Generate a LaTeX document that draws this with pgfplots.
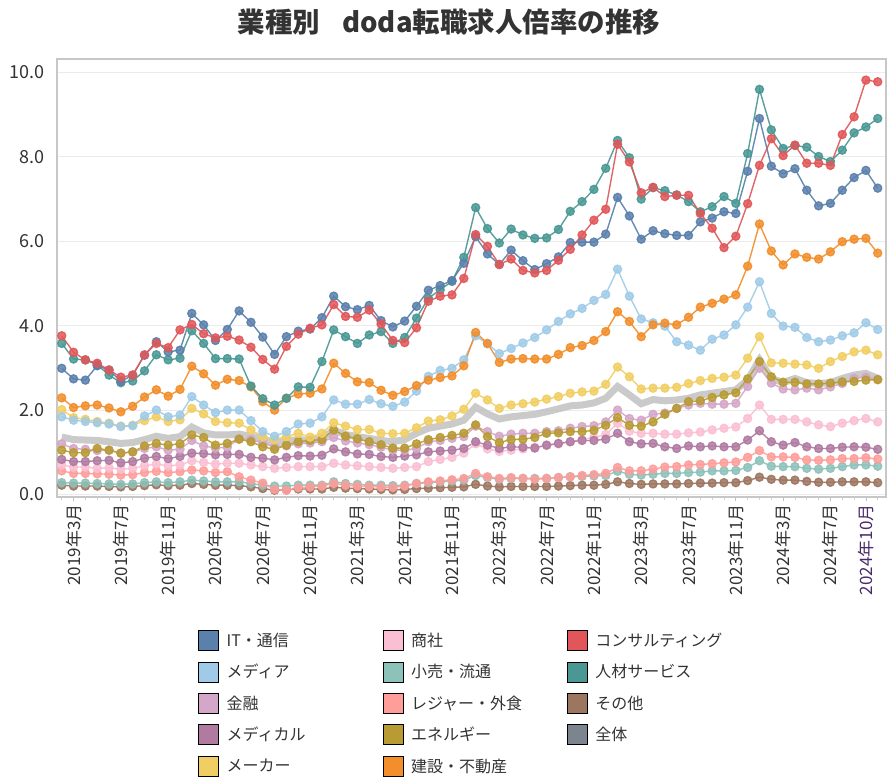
\documentclass[border=0pt]{standalone}
\usepackage{pgfplots}
\pgfplotsset{compat=1.18}
\usepackage{pgfplotstable}
\usepackage{fontspec}
\setmainfont{Noto Sans CJK JP}
\definecolor{cIT}{HTML}{5A80AC}
\definecolor{cMedia}{HTML}{A0CBE8}
\definecolor{cFin}{HTML}{D4A6C8}
\definecolor{cMed}{HTML}{B07AA1}
\definecolor{cMaker}{HTML}{F1CE63}
\definecolor{cTrade}{HTML}{FABFD2}
\definecolor{cRetail}{HTML}{8CC2BA}
\definecolor{cLeisure}{HTML}{FF9D9A}
\definecolor{cEnergy}{HTML}{B89B32}
\definecolor{cConst}{HTML}{F28E2B}
\definecolor{cCons}{HTML}{E15759}
\definecolor{cHR}{HTML}{499894}
\definecolor{cOther}{HTML}{9D7660}
\definecolor{cAllLeg}{HTML}{7B848F}
\definecolor{cAll}{HTML}{BDBDBD}
\definecolor{cTxt}{HTML}{333333}

\pgfplotstableread{
i IT Media Fin Med Maker Trade Retail Leisure Energy Const Cons HR Other All
0 2.99 1.84 1.20 0.83 2.01 0.70 0.28 0.56 1.05 2.29 3.76 3.58 0.22 1.36
1 2.74 1.76 1.09 0.78 1.82 0.65 0.27 0.50 0.99 2.06 3.37 3.21 0.20 1.30
2 2.71 1.73 1.07 0.78 1.78 0.65 0.27 0.50 0.99 2.10 3.19 3.19 0.20 1.29
3 3.05 1.70 1.04 0.80 1.73 0.62 0.26 0.49 1.09 2.12 3.11 3.07 0.20 1.28
4 2.95 1.67 1.05 0.81 1.69 0.63 0.25 0.48 1.05 2.05 2.95 2.83 0.19 1.25
5 2.68 1.61 0.98 0.75 1.62 0.60 0.24 0.46 0.98 1.96 2.78 2.65 0.18 1.21
6 2.83 1.63 1.01 0.78 1.64 0.62 0.25 0.47 1.01 2.09 2.83 2.69 0.19 1.23
7 3.30 1.86 1.09 0.86 1.75 0.68 0.28 0.52 1.15 2.31 3.31 2.93 0.21 1.30
8 3.62 2.00 1.13 0.90 1.84 0.72 0.30 0.55 1.21 2.48 3.58 3.31 0.23 1.38
9 3.38 1.84 1.05 0.85 1.73 0.68 0.28 0.52 1.17 2.33 3.48 3.19 0.21 1.33
10 3.42 1.88 1.07 0.90 1.77 0.70 0.30 0.54 1.20 2.49 3.90 3.23 0.22 1.37
11 4.29 2.32 1.28 0.98 2.04 0.80 0.34 0.58 1.41 3.04 4.03 3.88 0.26 1.60
12 4.02 2.12 1.15 0.97 1.91 0.76 0.32 0.56 1.35 2.86 3.81 3.58 0.24 1.46
13 3.65 1.94 1.10 0.94 1.73 0.72 0.30 0.52 1.17 2.59 3.71 3.22 0.22 1.41
14 3.91 2.00 1.12 0.95 1.70 0.74 0.30 0.54 1.21 2.73 3.75 3.22 0.22 1.41
15 4.35 2.00 1.32 0.95 1.69 0.74 0.30 0.42 1.31 2.70 3.66 3.21 0.21 1.43
16 4.08 1.75 1.30 0.88 1.53 0.70 0.26 0.34 1.25 2.55 3.49 2.57 0.18 1.38
17 3.73 1.49 1.22 0.86 1.37 0.66 0.22 0.27 1.13 2.20 3.20 2.27 0.14 1.33
18 3.32 1.38 1.12 0.82 1.30 0.62 0.20 0.12 1.07 2.00 2.97 2.12 0.10 1.21
19 3.74 1.49 1.15 0.88 1.37 0.64 0.20 0.10 1.17 2.28 3.51 2.28 0.11 1.27
20 3.87 1.67 1.20 0.92 1.45 0.66 0.22 0.16 1.25 2.38 3.80 2.55 0.13 1.30
21 3.92 1.69 1.22 0.91 1.36 0.66 0.22 0.18 1.28 2.40 3.94 2.54 0.13 1.28
22 4.19 1.84 1.25 0.93 1.45 0.66 0.22 0.20 1.30 2.50 4.02 3.15 0.13 1.33
23 4.70 2.24 1.35 1.08 1.70 0.74 0.30 0.26 1.53 3.11 4.50 3.90 0.17 1.52
24 4.45 2.14 1.27 1.01 1.62 0.70 0.26 0.22 1.38 2.87 4.22 3.74 0.15 1.42
25 4.38 2.14 1.22 0.96 1.54 0.68 0.24 0.20 1.32 2.67 4.20 3.58 0.14 1.37
26 4.48 2.25 1.18 0.95 1.54 0.66 0.22 0.19 1.25 2.65 4.37 3.78 0.13 1.33
27 4.12 2.15 1.12 0.90 1.45 0.64 0.22 0.18 1.18 2.47 4.04 3.86 0.12 1.28
28 3.97 2.09 1.05 0.88 1.44 0.62 0.21 0.17 1.10 2.35 3.65 3.58 0.11 1.25
29 4.11 2.19 1.05 0.91 1.45 0.64 0.22 0.20 1.10 2.44 3.60 3.72 0.12 1.30
30 4.46 2.45 1.09 0.94 1.58 0.66 0.26 0.26 1.20 2.58 3.95 4.18 0.14 1.45
31 4.84 2.80 1.25 1.01 1.74 0.78 0.28 0.30 1.30 2.71 4.58 4.65 0.15 1.57
32 4.95 2.94 1.28 1.03 1.77 0.83 0.30 0.32 1.35 2.77 4.70 4.85 0.16 1.62
33 5.07 2.99 1.33 1.05 1.86 0.88 0.32 0.35 1.40 2.81 4.73 5.05 0.17 1.67
34 5.48 3.19 1.37 1.09 2.02 0.98 0.34 0.38 1.45 3.05 5.12 5.62 0.18 1.76
35 6.11 3.76 1.62 1.25 2.40 1.20 0.45 0.50 1.65 3.84 6.16 6.80 0.24 2.07
36 5.70 3.57 1.49 1.17 2.24 1.08 0.40 0.42 1.37 3.58 5.88 6.30 0.20 1.91
37 5.45 3.34 1.38 1.09 2.04 1.02 0.36 0.38 1.23 3.13 5.45 5.96 0.18 1.79
38 5.79 3.46 1.43 1.13 2.12 1.05 0.38 0.40 1.30 3.21 5.58 6.29 0.19 1.84
39 5.54 3.59 1.45 1.12 2.15 1.08 0.38 0.38 1.31 3.22 5.31 6.15 0.19 1.87
40 5.33 3.72 1.45 1.10 2.19 1.12 0.38 0.36 1.35 3.21 5.25 6.07 0.19 1.90
41 5.47 3.90 1.49 1.17 2.26 1.16 0.38 0.38 1.45 3.21 5.31 6.08 0.19 1.96
42 5.63 4.10 1.51 1.21 2.32 1.20 0.40 0.40 1.46 3.32 5.55 6.28 0.20 2.03
43 5.97 4.28 1.57 1.25 2.40 1.25 0.42 0.42 1.49 3.48 5.81 6.71 0.21 2.10
44 5.98 4.41 1.61 1.28 2.43 1.30 0.43 0.45 1.49 3.53 6.15 6.94 0.22 2.12
45 5.98 4.60 1.63 1.28 2.45 1.35 0.44 0.47 1.52 3.65 6.50 7.23 0.22 2.17
46 6.17 4.74 1.72 1.31 2.61 1.42 0.45 0.50 1.64 3.86 6.76 7.73 0.24 2.28
47 7.04 5.34 2.00 1.45 3.02 1.69 0.55 0.64 1.82 4.33 8.30 8.39 0.30 2.56
48 6.60 4.70 1.80 1.25 2.79 1.50 0.48 0.56 1.64 4.10 7.88 7.98 0.26 2.36
49 6.05 4.16 1.76 1.20 2.50 1.45 0.46 0.56 1.62 3.74 7.15 7.00 0.24 2.15
50 6.25 4.07 1.90 1.21 2.52 1.45 0.48 0.60 1.72 4.02 7.28 7.27 0.25 2.25
51 6.18 3.99 1.93 1.13 2.52 1.43 0.50 0.65 1.90 4.06 7.06 7.20 0.25 2.22
52 6.14 3.62 2.04 1.09 2.54 1.43 0.50 0.66 2.04 4.02 7.09 7.10 0.25 2.24
53 6.14 3.54 2.12 1.15 2.63 1.46 0.52 0.70 2.20 4.20 7.09 6.94 0.26 2.28
54 6.46 3.42 2.16 1.13 2.70 1.48 0.53 0.71 2.22 4.44 6.66 6.70 0.27 2.36
55 6.55 3.68 2.14 1.15 2.75 1.53 0.56 0.73 2.30 4.53 6.31 6.82 0.27 2.40
56 6.70 3.78 2.14 1.13 2.78 1.57 0.56 0.75 2.36 4.63 5.85 7.06 0.28 2.44
57 6.66 4.02 2.16 1.13 2.83 1.60 0.57 0.77 2.41 4.73 6.12 6.90 0.28 2.48
58 7.66 4.44 2.56 1.29 3.23 1.80 0.64 0.88 2.74 5.41 6.89 8.08 0.33 2.71
59 8.91 5.04 2.99 1.51 3.74 2.12 0.80 1.04 3.15 6.41 7.80 9.60 0.41 3.19
60 7.78 4.29 2.64 1.25 3.12 1.78 0.67 0.89 2.79 5.77 8.43 8.64 0.36 2.75
61 7.60 3.99 2.50 1.17 3.11 1.78 0.66 0.89 2.66 5.44 8.03 8.20 0.34 2.65
62 7.72 3.96 2.48 1.23 3.09 1.78 0.66 0.88 2.66 5.70 8.28 8.27 0.34 2.75
63 7.21 3.72 2.52 1.13 3.07 1.72 0.62 0.82 2.62 5.62 7.85 8.23 0.31 2.65
64 6.84 3.62 2.48 1.09 2.99 1.65 0.60 0.81 2.62 5.58 7.85 8.01 0.29 2.63
65 6.90 3.66 2.55 1.09 3.15 1.61 0.62 0.82 2.64 5.75 7.80 7.89 0.29 2.65
66 7.21 3.76 2.63 1.12 3.27 1.69 0.66 0.85 2.67 5.99 8.53 8.16 0.30 2.75
67 7.51 3.83 2.75 1.13 3.38 1.75 0.70 0.85 2.68 6.05 8.95 8.57 0.30 2.83
68 7.68 4.07 2.78 1.12 3.42 1.80 0.70 0.87 2.71 6.07 9.82 8.71 0.30 2.87
69 7.26 3.91 2.73 1.07 3.31 1.72 0.67 0.84 2.72 5.72 9.78 8.91 0.28 2.75
}\datatable

\pgfplotsset{
  ser/.style={#1, line width=1.4pt, opacity=0.92, mark=*, mark size=4pt,
    mark options={draw=none, fill=#1, fill opacity=0.85}, forget plot},
}

\begin{document}
\begin{tikzpicture}
\path[use as bounding box] (0pt,0pt) rectangle (893pt,-778pt);
\begin{axis}[
  at={(57pt,-497pt)}, anchor=south west,
  scale only axis, width=829pt, height=438pt,
  xmin=-0.4, xmax=69.7, ymin=-0.06, ymax=10.32,
  axis line style={draw=black!22, line width=1.3pt},
  ymajorgrids, grid style={draw=black!8, line width=1pt},
  ytick={0,2,4,6,8,10},
  yticklabels={0.0,2.0,4.0,6.0,8.0,10.0},
  ytick style={draw=none},
  yticklabel style={font=\fontsize{18}{18}\selectfont, text=cTxt, xshift=-9pt},
  xtick={1,5,9,13,17,21,25,29,33,37,41,45,49,53,57,61,65,68},
  xticklabels={2019年3月,2019年7月,2019年11月,2020年3月,2020年7月,2020年11月,2021年3月,2021年7月,2021年11月,2022年3月,2022年7月,2022年11月,2023年3月,2023年7月,2023年11月,2024年3月,2024年7月,\textcolor[HTML]{4B2A6B}{2024年10月}},
  minor xtick={0,...,69},
  xtick pos=lower, xtick align=outside,
  major tick length=4pt, minor tick length=3pt,
  xtick style={draw=black!25, line width=0.8pt},
  minor x tick style={draw=black!18},
  xticklabel style={rotate=90, anchor=east, font=\fontsize{17}{17}\selectfont, text=cTxt},
  legend columns=3,
  legend image code/.code={\fill[#1] (0pt,-10pt) rectangle (20pt,10pt);},
  legend style={at={(0.1701,-0.3037)}, anchor=north west, draw=none, fill=none,
    font=\fontsize{16}{16}\selectfont, text=cTxt, inner sep=0pt, row sep=11pt,
    column sep=0pt, nodes={inner sep=0pt, anchor=west}},
  legend cell align=left,
]
\addplot[color=cAll, line width=7pt, opacity=0.8, forget plot] table[x=i, y=All]{\datatable};
\addplot[ser=cOther] table[x=i, y=Other]{\datatable};
\addplot[ser=cRetail] table[x=i, y=Retail]{\datatable};
\addplot[ser=cLeisure] table[x=i, y=Leisure]{\datatable};
\addplot[ser=cTrade] table[x=i, y=Trade]{\datatable};
\addplot[ser=cMed] table[x=i, y=Med]{\datatable};
\addplot[ser=cFin] table[x=i, y=Fin]{\datatable};
\addplot[ser=cEnergy] table[x=i, y=Energy]{\datatable};
\addplot[ser=cMaker] table[x=i, y=Maker]{\datatable};
\addplot[ser=cMedia] table[x=i, y=Media]{\datatable};
\addplot[ser=cConst] table[x=i, y=Const]{\datatable};
\addplot[ser=cHR] table[x=i, y=HR]{\datatable};
\addplot[ser=cIT] table[x=i, y=IT]{\datatable};
\addplot[ser=cCons] table[x=i, y=Cons]{\datatable};

\addlegendimage{fill=cIT}\addlegendentry{\hspace{8pt}\makebox[156pt][l]{IT・通信}}
\addlegendimage{fill=cTrade}\addlegendentry{\hspace{8pt}\makebox[156pt][l]{商社}}
\addlegendimage{fill=cCons}\addlegendentry{\hspace{8pt}\makebox[156pt][l]{コンサルティング}}
\addlegendimage{fill=cMedia}\addlegendentry{\hspace{8pt}\makebox[156pt][l]{メディア}}
\addlegendimage{fill=cRetail}\addlegendentry{\hspace{8pt}\makebox[156pt][l]{小売・流通}}
\addlegendimage{fill=cHR}\addlegendentry{\hspace{8pt}\makebox[156pt][l]{人材サービス}}
\addlegendimage{fill=cFin}\addlegendentry{\hspace{8pt}\makebox[156pt][l]{金融}}
\addlegendimage{fill=cLeisure}\addlegendentry{\hspace{8pt}\makebox[156pt][l]{レジャー・外食}}
\addlegendimage{fill=cOther}\addlegendentry{\hspace{8pt}\makebox[156pt][l]{その他}}
\addlegendimage{fill=cMed}\addlegendentry{\hspace{8pt}\makebox[156pt][l]{メディカル}}
\addlegendimage{fill=cEnergy}\addlegendentry{\hspace{8pt}\makebox[156pt][l]{エネルギー}}
\addlegendimage{fill=cAllLeg}\addlegendentry{\hspace{8pt}\makebox[156pt][l]{全体}}
\addlegendimage{fill=cMaker}\addlegendentry{\hspace{8pt}\makebox[156pt][l]{メーカー}}
\addlegendimage{fill=cConst}\addlegendentry{\hspace{8pt}\makebox[156pt][l]{建設・不動産}}
\addlegendimage{empty legend}\addlegendentry{}
\end{axis}
\node[font=\fontsize{27.5}{27.5}\selectfont\bfseries, text=cTxt] at (449pt,-22pt) {業種別\hspace{0.8em}doda転職求人倍率の推移};
\end{tikzpicture}
\end{document}
